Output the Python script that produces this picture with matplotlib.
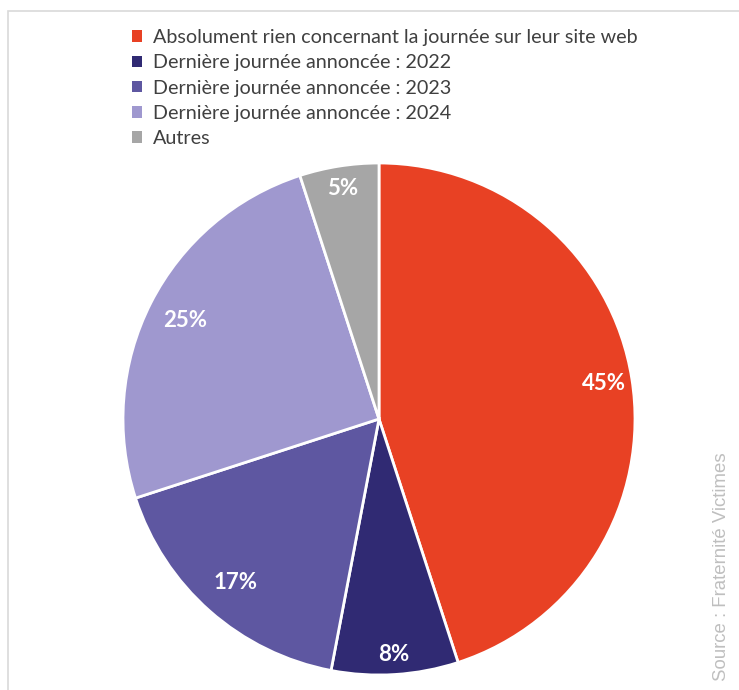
import numpy as np
import matplotlib.pyplot as plt
from matplotlib.patches import Rectangle, Patch

# ------------------------------------------------ DATA ----------------------------------------------------------------
labels = ['Absolument rien concernant la journée sur leur site web',
          'Dernière journée annoncée : 2022',
          'Dernière journée annoncée : 2023',
          'Dernière journée annoncée : 2024',
          'Autres']
values = [45, 8, 17, 25, 5]
colors = ['#E84124', '#302A73', '#5E57A1', '#9F98CF', '#A6A6A6']
source = 'Source : Fraternité Victimes'


# ------------------------------------------------ PLOT ----------------------------------------------------------------
def main():
    W, H = 739, 690
    fig = plt.figure(figsize=(W / 100, H / 100), dpi=100)

    # light frame around the chart area
    fig.patches.append(Rectangle((8 / W, -0.01), 1.0, 1 - 11 / H + 0.01, transform=fig.transFigure,
                                 fill=False, edgecolor='#D9D9D9', linewidth=1.2))

    cx, cy, r = 379, 690 - 419, 256
    ax = fig.add_axes([(cx - r) / W, (cy - r) / H, 2 * r / W, 2 * r / H])
    wedges, _ = ax.pie(values, colors=colors, startangle=90, counterclock=False, radius=1,
                       wedgeprops=dict(edgecolor='white', linewidth=2))

    # labels sit near the outer edge, like "inside end" labels
    label_dist = [0.89, 0.92, 0.85, 0.85, 0.91]
    for w, v, d in zip(wedges, values, label_dist):
        ang = np.deg2rad((w.theta1 + w.theta2) / 2)
        ax.text(d * np.cos(ang), d * np.sin(ang), f'{v}%', ha='center', va='center',
                color='white', fontsize=16, fontweight='bold', family='Lato')
    ax.set_xlim(-1, 1)
    ax.set_ylim(-1, 1)
    ax.axis('off')

    handles = [Patch(facecolor=c, edgecolor='none') for c in colors]
    fig.legend(handles, labels, loc='upper left', bbox_to_anchor=(132 / W, 1 - 29 / H),
               frameon=False, handlelength=0.51, handleheight=0.51, handletextpad=0.56,
               labelspacing=0.42, borderpad=0, borderaxespad=0, prop=dict(family='Lato', size=14.2),
               labelcolor='#404040')

    fig.text(722 / W, (690 - 567) / H, source, rotation=90, ha='center', va='center',
             color='#BFBFBF', fontsize=13.4, family='Liberation Sans')

    fig.savefig('out.png', dpi=100, facecolor='white')


if __name__ == '__main__':
    main()
